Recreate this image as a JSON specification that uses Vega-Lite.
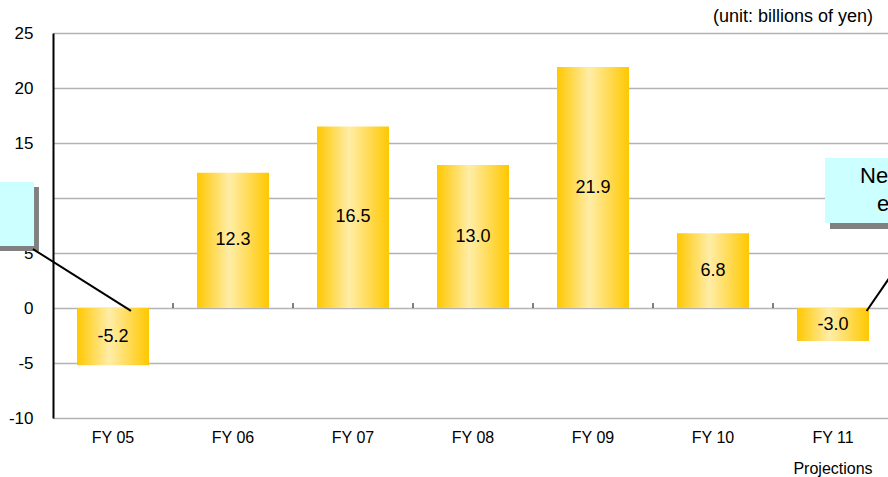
{
  "$schema": "https://vega.github.io/schema/vega-lite/v6.json",
  "width": 835,
  "height": 385,
  "autosize": {"type": "none"},
  "padding": {"left": 53, "top": 33, "right": 0, "bottom": 59},
  "background": "white",
  "config": {
    "view": {"stroke": null},
    "font": "Liberation Sans",
    "locale": {
      "number": {"decimal": ".", "thousands": ",", "grouping": [3], "currency": ["$", ""], "minus": "-"}
    }
  },
  "resolve": {"scale": {"x": "independent"}},
  "layer": [
    {
      "data": {
        "values": [
          {"year": "FY 05", "value": -5.2},
          {"year": "FY 06", "value": 12.3},
          {"year": "FY 07", "value": 16.5},
          {"year": "FY 08", "value": 13.0},
          {"year": "FY 09", "value": 21.9},
          {"year": "FY 10", "value": 6.8},
          {"year": "FY 11", "value": -3.0}
        ]
      },
      "encoding": {
        "x": {
          "field": "year",
          "type": "nominal",
          "sort": null,
          "scale": {"range": [0, 840], "paddingInner": 0.4, "paddingOuter": 0.2},
          "axis": {
            "title": null,
            "domain": false,
            "ticks": false,
            "labelAngle": 0,
            "labelPadding": 11,
            "labelFontSize": 16,
            "labelColor": "#000000",
            "labelFont": "Liberation Sans",
            "labelLineHeight": 31,
            "labelExpr": "datum.value == 'FY 11' ? ['FY 11', 'Projections'] : datum.value"
          }
        }
      },
      "layer": [
        {
          "mark": {
            "type": "bar",
            "color": {
              "gradient": "linear",
              "x1": 0, "y1": 0, "x2": 1, "y2": 0,
              "stops": [
                {"offset": 0, "color": "#FFC800"},
                {"offset": 0.45, "color": "#FFEDA8"},
                {"offset": 1, "color": "#FFC800"}
              ]
            }
          },
          "encoding": {
            "y": {
              "field": "value",
              "type": "quantitative",
              "scale": {"domain": [-10, 25], "nice": false, "zero": false},
              "axis": {
                "title": null,
                "values": [-10, -5, 0, 5, 10, 15, 20, 25],
                "grid": true,
                "gridColor": "#b3b3b3",
                "gridWidth": 1.5,
                "domainColor": "#000000",
                "domainWidth": 2,
                "ticks": false,
                "labelPadding": 20,
                "labelFontSize": 17,
                "labelColor": "#000000",
                "labelFont": "Liberation Sans",
                "zindex": 0
              }
            }
          }
        },
        {
          "transform": [{"calculate": "datum.value / 2", "as": "mid"}],
          "mark": {"type": "text", "fontSize": 18, "color": "#000000", "baseline": "middle", "align": "center"},
          "encoding": {
            "y": {"field": "mid", "type": "quantitative"},
            "text": {"field": "value", "type": "quantitative", "format": ".1f"}
          }
        }
      ]
    },
    {
      "layer": [
        {
          "mark": {"type": "rule", "color": "#000000", "strokeWidth": 1.5},
          "encoding": {"y": {"datum": 0}}
        },
        {
          "mark": {"type": "rule", "color": "#000000", "strokeWidth": 2},
          "encoding": {"y": {"datum": 25}}
        },
        {
          "mark": {"type": "rule", "color": "#000000", "strokeWidth": 2},
          "encoding": {"y": {"datum": -10}}
        },
        {
          "data": {"values": [{"b": 1}, {"b": 2}, {"b": 3}, {"b": 4}, {"b": 5}, {"b": 6}]},
          "mark": {"type": "rule", "color": "#000000", "strokeWidth": 1},
          "encoding": {
            "x": {"field": "b", "type": "quantitative", "scale": {"domain": [0, 7], "range": [0, 840], "nice": false, "zero": false}, "axis": null},
            "y": {"datum": 0},
            "y2": {"datum": 0.45}
          }
        },
        {
          "data": {
            "values": [
              {"x": -0.6, "x2": -0.117, "y": 11.0, "y2": 5.18, "fill": "shadow"},
              {"x": -0.6, "x2": -0.158, "y": 11.45, "y2": 5.64, "fill": "box"},
              {"x": 6.475, "x2": 7.7, "y": 13.18, "y2": 7.18, "fill": "shadow"},
              {"x": 6.433, "x2": 7.7, "y": 13.64, "y2": 7.73, "fill": "box"}
            ]
          },
          "mark": {"type": "rect", "clip": false},
          "encoding": {
            "x": {"field": "x", "type": "quantitative", "scale": {"domain": [0, 7], "range": [0, 840], "nice": false, "zero": false}, "axis": null},
            "x2": {"field": "x2"},
            "y": {"field": "y", "type": "quantitative"},
            "y2": {"field": "y2"},
            "color": {"field": "fill", "type": "nominal", "scale": {"domain": ["shadow", "box"], "range": ["#808080", "#CCFFFF"]}, "legend": null},
            "order": {"field": "fill", "sort": "descending"}
          }
        },
        {
          "data": {
            "values": [
              {"x": -0.167, "y": 5.36, "x2": 0.65, "y2": -0.27},
              {"x": 6.78, "y": -0.27, "x2": 7.25, "y2": 7.18}
            ]
          },
          "mark": {"type": "rule", "color": "#000000", "strokeWidth": 2, "clip": false},
          "encoding": {
            "x": {"field": "x", "type": "quantitative", "scale": {"domain": [0, 7], "range": [0, 840], "nice": false, "zero": false}, "axis": null},
            "x2": {"field": "x2"},
            "y": {"field": "y", "type": "quantitative"},
            "y2": {"field": "y2"}
          }
        },
        {
          "data": {
            "values": [
              {"x": 6.725, "y": 12.0, "label": "Net loss"},
              {"x": 6.867, "y": 9.45, "label": "expected"}
            ]
          },
          "mark": {"type": "text", "align": "left", "baseline": "middle", "fontSize": 22, "color": "#000000", "clip": false},
          "encoding": {
            "x": {"field": "x", "type": "quantitative", "scale": {"domain": [0, 7], "range": [0, 840], "nice": false, "zero": false}, "axis": null},
            "y": {"field": "y", "type": "quantitative"},
            "text": {"field": "label"}
          }
        },
        {
          "data": {"values": [{"x": 6.833, "y": 26.45, "label": "(unit: billions of  yen)"}]},
          "mark": {"type": "text", "align": "right", "baseline": "middle", "fontSize": 18, "color": "#000000", "clip": false},
          "encoding": {
            "x": {"field": "x", "type": "quantitative", "scale": {"domain": [0, 7], "range": [0, 840], "nice": false, "zero": false}, "axis": null},
            "y": {"field": "y", "type": "quantitative"},
            "text": {"field": "label"}
          }
        }
      ]
    }
  ]
}
